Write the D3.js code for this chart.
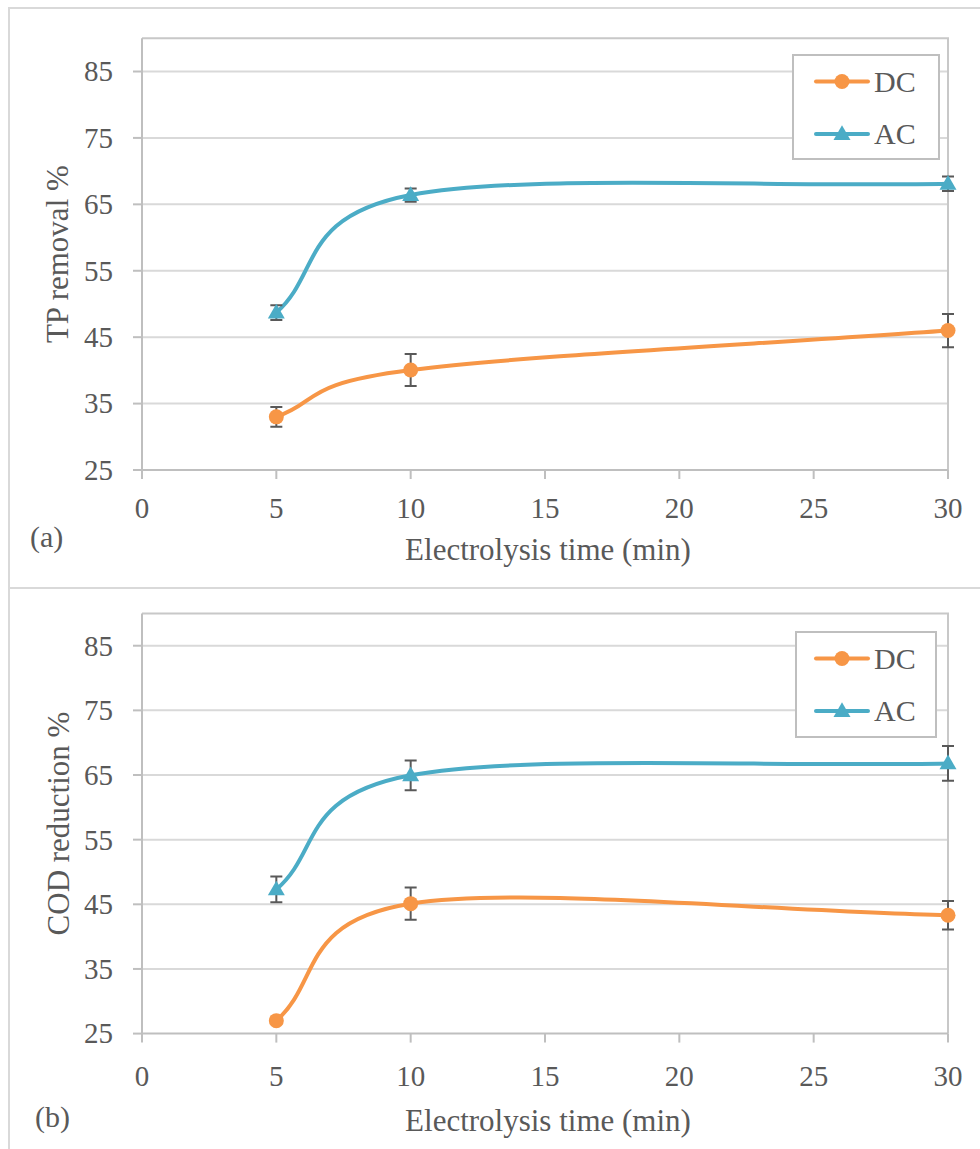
<!DOCTYPE html>
<html>
<head>
<meta charset="utf-8">
<script src="https://cdn.jsdelivr.net/npm/d3@7"></script>
<style>
  body { margin: 0; background: #fff; }
</style>
</head>
<body>
<div id="chart"></div>
<script>
// data
var times = [5, 10, 30];
var xTicks = [0, 5, 10, 15, 20, 25, 30];
var yTicks = [25, 35, 45, 55, 65, 75, 85];
var seriesNames = ["DC", "AC"];

var tpDC = [33.0, 40.05, 46.0];
var tpDCErr = [1.5, 2.4, 2.5];
var tpAC = [48.7, 66.4, 68.1];
var tpACErr = [1.1, 1.0, 1.1];

var codDC = [27.0, 45.1, 43.3];
var codDCErr = [0.4, 2.5, 2.2];
var codAC = [47.3, 64.95, 66.8];
var codACErr = [2.0, 2.3, 2.7];

var colors = { DC: "#F79646", AC: "#4BACC6" };
var FONT = "'Liberation Serif', 'Times New Roman', Times, 'DejaVu Serif', serif";

var W = 980, H = 1149;
var svg = d3.select("#chart").append("svg")
  .attr("width", W).attr("height", H)
  .attr("font-family", FONT)
  .style("font-family", FONT);

// chart-area frames
svg.append("rect").attr("x", 9).attr("y", 8).attr("width", 1000).attr("height", 580)
  .attr("fill", "none").attr("stroke", "#d9d9d9").attr("stroke-width", 2);
svg.append("rect").attr("x", 9).attr("y", 588).attr("width", 1000).attr("height", 600)
  .attr("fill", "none").attr("stroke", "#d9d9d9").attr("stroke-width", 2);

var panels = [
  { top: 38.3, bottom: 470, tickDy: 48, titleDy: 90, tag: "(a)", tagY: 547, tagX: 30,
    ytitle: "TP removal %", ytitleX: 68, legend: [793, 55, 146, 104],
    series: [[tpDC, tpDCErr], [tpAC, tpACErr]] },
  { top: 613.4, bottom: 1033.6, tickDy: 52, titleDy: 97, tag: "(b)", tagY: 1127, tagX: 35,
    ytitle: "COD reduction %", ytitleX: 69, legend: [796, 632, 140, 105],
    series: [[codDC, codDCErr], [codAC, codACErr]] }
];

// smoothing like a spreadsheet "smoothed line": Catmull-Rom with reflected end points
function smoothPath(pts) {
  var p = d3.path();
  var n = pts.length;
  var ext = [[2 * pts[0][0] - pts[1][0], 2 * pts[0][1] - pts[1][1]]]
    .concat(pts)
    .concat([[2 * pts[n - 1][0] - pts[n - 2][0], 2 * pts[n - 1][1] - pts[n - 2][1]]]);
  p.moveTo(pts[0][0], pts[0][1]);
  for (var i = 1; i < ext.length - 2; i++) {
    var a = ext[i - 1], b = ext[i], c = ext[i + 1], d = ext[i + 2];
    p.bezierCurveTo(
      b[0] + (c[0] - a[0]) / 6, b[1] + (c[1] - a[1]) / 6,
      c[0] - (d[0] - b[0]) / 6, c[1] - (d[1] - b[1]) / 6,
      c[0], c[1]);
  }
  return p.toString();
}

function marker(g, name, cx, cy) {
  if (name == "DC") {
    g.append("circle").attr("cx", cx).attr("cy", cy).attr("r", 7.5)
      .attr("fill", colors.DC);
  } else {
    g.append("path")
      .attr("d", d3.symbol().type(d3.symbolTriangle).size(125)())
      .attr("transform", "translate(" + cx + "," + (cy + 1) + ")")
      .attr("fill", colors.AC);
  }
}

panels.forEach(function(p) {
  var x = d3.scaleLinear().domain([0, 30]).range([142, 948]);
  var y = d3.scaleLinear().domain([25, 90]).range([p.bottom, p.top]);
  var g = svg.append("g");

  // gridlines
  g.selectAll(".grid").data(yTicks.slice(1)).enter().append("line")
    .attr("x1", x(0)).attr("x2", x(30))
    .attr("y1", function(d) { return y(d); }).attr("y2", function(d) { return y(d); })
    .attr("stroke", "#d9d9d9").attr("stroke-width", 2);

  // plot area border (top, right)
  g.append("path")
    .attr("d", "M" + x(0) + "," + y(90) + "H" + x(30) + "V" + y(25))
    .attr("fill", "none").attr("stroke", "#c8c8c8").attr("stroke-width", 2);

  // y axis
  g.append("line").attr("x1", x(0)).attr("x2", x(0)).attr("y1", y(90)).attr("y2", y(25))
    .attr("stroke", "#bfbfbf").attr("stroke-width", 2);
  g.selectAll(".yt").data(yTicks).enter().append("line")
    .attr("x1", x(0) - 9).attr("x2", x(0))
    .attr("y1", function(d) { return y(d); }).attr("y2", function(d) { return y(d); })
    .attr("stroke", "#bfbfbf").attr("stroke-width", 2);
  g.selectAll(".yl").data(yTicks).enter().append("text")
    .attr("x", 113).attr("y", function(d) { return y(d); }).attr("dy", "0.34em")
    .attr("text-anchor", "end").attr("fill", "#595959").style("font-size", "29px")
    .text(function(d) { return d; });

  // x axis
  g.append("line").attr("x1", x(0)).attr("x2", x(30)).attr("y1", y(25)).attr("y2", y(25))
    .attr("stroke", "#bfbfbf").attr("stroke-width", 2);
  g.selectAll(".xt").data(xTicks).enter().append("line")
    .attr("x1", function(d) { return x(d); }).attr("x2", function(d) { return x(d); })
    .attr("y1", y(25)).attr("y2", y(25) + 9)
    .attr("stroke", "#bfbfbf").attr("stroke-width", 2);
  g.selectAll(".xl").data(xTicks).enter().append("text")
    .attr("x", function(d) { return x(d); }).attr("y", y(25) + p.tickDy)
    .attr("text-anchor", "middle").attr("fill", "#595959").style("font-size", "29px")
    .text(function(d) { return d; });

  // titles
  g.append("text").attr("x", (x(0) + x(30)) / 2 + 3).attr("y", y(25) + p.titleDy)
    .attr("text-anchor", "middle").attr("fill", "#595959").style("font-size", "31px")
    .text("Electrolysis time (min)");
  g.append("text")
    .attr("transform", "translate(" + p.ytitleX + "," + ((y(25) + y(90)) / 2) + ") rotate(-90)")
    .attr("text-anchor", "middle").attr("fill", "#595959").style("font-size", "31px")
    .text(p.ytitle);
  g.append("text").attr("x", p.tagX).attr("y", p.tagY).attr("fill", "#595959")
    .style("font-size", "30px").text(p.tag);

  p.series.forEach(function(s, k) {
    var name = seriesNames[k];
    var vals = s[0], errs = s[1];
    var pts = times.map(function(t, i) { return [x(t), y(vals[i])]; });

    g.append("path").attr("d", smoothPath(pts))
      .attr("fill", "none").attr("stroke", colors[name]).attr("stroke-width", 4)
      .attr("stroke-linecap", "round");

    times.forEach(function(t, i) {
      var cx = x(t), y1 = y(vals[i] + errs[i]), y2 = y(vals[i] - errs[i]);
      g.append("path")
        .attr("d", "M" + cx + "," + y1 + "V" + y2 + "M" + (cx - 6) + "," + y1 + "h12M" + (cx - 6) + "," + y2 + "h12")
        .attr("fill", "none").attr("stroke", "#595959").attr("stroke-width", 2);
      marker(g, name, cx, y(vals[i]));
    });
  });

  // legend
  var L = p.legend;
  g.append("rect").attr("x", L[0]).attr("y", L[1]).attr("width", L[2]).attr("height", L[3])
    .attr("fill", "#fff").attr("stroke", "#bfbfbf").attr("stroke-width", 2);
  seriesNames.forEach(function(name, k) {
    var cy = L[1] + 26.5 + k * 52.5;
    g.append("line").attr("x1", 816).attr("x2", 868).attr("y1", cy).attr("y2", cy)
      .attr("stroke", colors[name]).attr("stroke-width", 4).attr("stroke-linecap", "round");
    marker(g, name, 842, cy);
    g.append("text").attr("x", 874).attr("y", cy).attr("dy", "0.34em")
      .attr("fill", "#595959").style("font-size", "30px").text(name);
  });
});
</script>
</body>
</html>
